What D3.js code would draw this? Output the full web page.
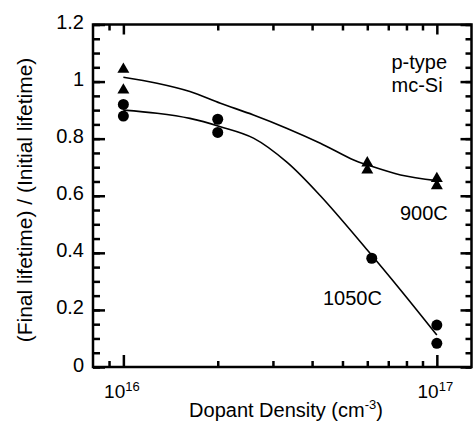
<!DOCTYPE html>
<html>
<head>
<meta charset="utf-8">
<script src="https://cdn.jsdelivr.net/npm/d3@7"></script>
<style>
  body { margin: 0; background: #fff; }
  text { font-family: "Liberation Sans", Arial, sans-serif; fill: #000; }
</style>
</head>
<body>
<div id="chart"></div>
<script>
// measured points, 900C anneal (triangles)
var density900 = [1e16, 1e16, 6e16, 6e16, 1e17, 1e17];
var ratio900 = [1.043, 0.97, 0.715, 0.69, 0.66, 0.635];

// measured points, 1050C anneal (circles)
var density1050 = [1e16, 1e16, 2e16, 2e16, 6.2e16, 1e17, 1e17];
var ratio1050 = [0.92, 0.879, 0.868, 0.822, 0.381, 0.147, 0.083];

// guide-to-eye curves
var fitDensity900 = [1e16, 1.28e16, 1.63e16, 2.04e16, 2.6e16, 3.33e16, 4.25e16, 5.43e16, 6e16, 7.66e16, 1e17];
var fitRatio900 = [1.015, 0.994, 0.965, 0.924, 0.883, 0.836, 0.784, 0.725, 0.708, 0.673, 0.653];
var fitDensity1050 = [1e16, 1.28e16, 1.63e16, 2.04e16, 2.6e16, 3.33e16, 4.25e16, 6e16, 7.66e16, 1e17];
var fitRatio1050 = [0.90, 0.889, 0.871, 0.842, 0.802, 0.717, 0.60, 0.41, 0.27, 0.112];

// ticks
var xMajor = [1e16, 1e17];
var xMinor = [9e15, 2e16, 3e16, 4e16, 5e16, 6e16, 7e16, 8e16, 9e16];
var yMajor = [0, 0.2, 0.4, 0.6, 0.8, 1, 1.2];
var yMinor = d3.range(0, 1.2001, 0.05);

var margin = {top: 24.5, right: 1.5, bottom: 54, left: 93},
    width = 473 - margin.left - margin.right,
    height = 421 - margin.top - margin.bottom;

var x = d3.scaleLog().domain([8e15, 1.29e17]).range([0, width]);
var y = d3.scaleLinear().domain([0, 1.2]).range([height, 0]);

var svg = d3.select("#chart").append("svg")
    .attr("width", 473)
    .attr("height", 421)
  .append("g")
    .attr("transform", "translate(" + margin.left + "," + margin.top + ")");

// minor ticks on all four sides
function tickAxis(axis, ticks, size) {
  return axis.tickValues(ticks).tickSize(size).tickFormat("");
}
svg.append("g").call(tickAxis(d3.axisLeft(y), yMinor, -7));
svg.append("g").attr("transform", "translate(" + width + ",0)").call(tickAxis(d3.axisRight(y), yMinor, -6));
svg.append("g").attr("transform", "translate(0," + height + ")").call(tickAxis(d3.axisBottom(x), xMinor, -6));
svg.append("g").call(tickAxis(d3.axisTop(x), xMinor, -6));

// major ticks
svg.append("g").attr("transform", "translate(" + width + ",0)").call(tickAxis(d3.axisRight(y), yMajor, -11));
svg.append("g").call(tickAxis(d3.axisTop(x), xMajor, -10));

var yAxis = svg.append("g")
    .attr("class", "y axis")
    .call(d3.axisLeft(y).tickValues(yMajor).tickSize(-12).tickPadding(9)
      .tickFormat(function(d) { return d3.format("")(+d.toFixed(1)); }));
yAxis.selectAll("text").attr("font-size", 20).attr("dy", "0.2em");

var xAxis = svg.append("g")
    .attr("class", "x axis")
    .attr("transform", "translate(0," + height + ")")
    .call(d3.axisBottom(x).tickValues(xMajor).tickSize(-12).tickFormat(""));
xAxis.selectAll(".tick text")
    .attr("y", 31).attr("dy", 0).attr("dx", -2)
    .attr("font-size", 19)
    .each(function(d) {
      var t = d3.select(this);
      t.append("tspan").text("10");
      t.append("tspan").attr("dy", -7).attr("font-size", 13).text(Math.round(Math.log10(d)));
    });

svg.selectAll(".domain").remove();
svg.selectAll(".tick line").attr("stroke", "#000").attr("stroke-width", 2.5);

// frame
svg.append("rect")
    .attr("width", width)
    .attr("height", height)
    .attr("fill", "none")
    .attr("stroke", "#000")
    .attr("stroke-width", 2.5);

// fitted curves
var line = d3.line()
    .x(function(d) { return x(d[0]); })
    .y(function(d) { return y(d[1]); })
    .curve(d3.curveCatmullRom.alpha(0.5));

svg.append("path")
    .datum(d3.zip(fitDensity900, fitRatio900))
    .attr("d", line)
    .attr("fill", "none").attr("stroke", "#000").attr("stroke-width", 1.6);
svg.append("path")
    .datum(d3.zip(fitDensity1050, fitRatio1050))
    .attr("d", line)
    .attr("fill", "none").attr("stroke", "#000").attr("stroke-width", 1.6);

// markers
svg.selectAll(".tri")
    .data(d3.zip(density900, ratio900))
  .enter().append("path")
    .attr("class", "tri")
    .attr("d", d3.symbol(d3.symbolTriangle, 62))
    .attr("transform", function(d) { return "translate(" + x(d[0]) + "," + y(d[1]) + ")"; })
    .attr("fill", "#000");

svg.selectAll(".dot")
    .data(d3.zip(density1050, ratio1050))
  .enter().append("circle")
    .attr("class", "dot")
    .attr("cx", function(d) { return x(d[0]); })
    .attr("cy", function(d) { return y(d[1]); })
    .attr("r", 5.5)
    .attr("fill", "#000");

// annotations (page coordinates)
var root = d3.select("svg");
function label(txt, px, py) {
  return root.append("text").attr("x", px).attr("y", py).attr("font-size", 20).text(txt);
}
label("p-type", 391.5, 68.5);
label("mc-Si", 391.5, 91.5);
label("900C", 400, 219.5);
label("1050C", 323, 305);

var xl = root.append("text")
    .attr("x", 286).attr("y", 416.5)
    .attr("text-anchor", "middle")
    .attr("font-size", 20)
    .text("Dopant Density (cm");
xl.append("tspan").attr("dy", -8).attr("font-size", 13).text("-3");
xl.append("tspan").attr("dy", 8).text(")");

root.append("text")
    .attr("transform", "translate(32,200) rotate(-90)")
    .attr("text-anchor", "middle")
    .attr("font-size", 21)
    .text("(Final lifetime) / (Initial lifetime)");
</script>
</body>
</html>
